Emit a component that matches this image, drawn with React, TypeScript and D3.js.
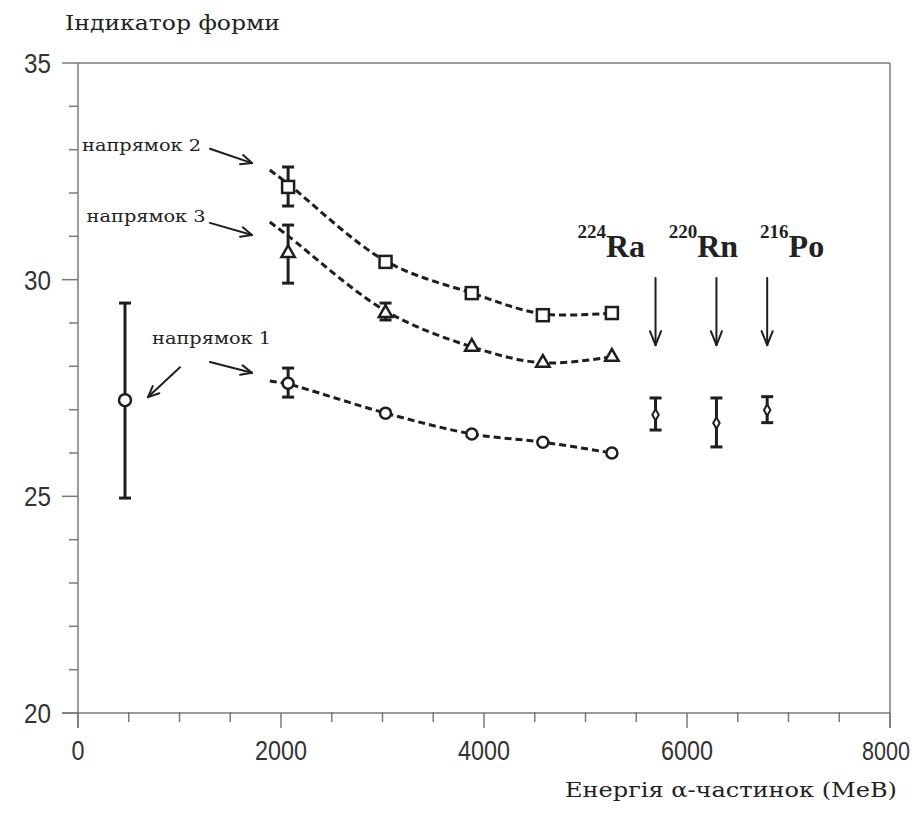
import React from 'react';
import * as d3 from 'd3';

// ---------- data ----------
const energies = [2070, 3030, 3880, 4580, 5260];
const dir2Values = [32.14, 30.41, 29.69, 29.18, 29.23];
const dir2Low: (number | null)[] = [31.7, null, null, null, null];
const dir2High: (number | null)[] = [32.6, null, null, null, null];
const dir3Values = [30.61, 29.23, 28.45, 28.08, 28.22];
const dir3Low: (number | null)[] = [29.92, 29.07, null, null, null];
const dir3High: (number | null)[] = [31.26, 29.46, null, null, null];
const dir1Values = [27.61, 26.92, 26.44, 26.25, 26.0];
const dir1Low: (number | null)[] = [27.29, null, null, null, null];
const dir1High: (number | null)[] = [27.96, null, null, null, null];

const fitEnergies = [1890, 2070, 3030, 3880, 4580, 5260];
const fit2 = [32.53, 32.21, 30.43, 29.69, 29.21, 29.23];
const fit3 = [31.33, 31.01, 29.28, 28.45, 28.08, 28.22];
const fit1 = [27.66, 27.59, 26.92, 26.44, 26.25, 26.0];

const lowEnergy = [463];
const lowValue = [27.22];
const lowLow = [24.96];
const lowHigh = [29.46];

const isotopeMass = ['224', '220', '216'];
const isotopeSymbol = ['Ra', 'Rn', 'Po'];
const isotopeEnergies = [5690, 6290, 6790];
const isotopeValues = [26.88, 26.69, 26.99];
const isotopeLow = [26.53, 26.14, 26.7];
const isotopeHigh = [27.27, 27.27, 27.3];
const isotopeLabelEnergy = [4920, 5820, 6720];
const isotopeLabelValue = 30.52;
const isotopeArrowTop = 30.04;
const isotopeArrowBottom = 28.49;

const xTicks = [0, 2000, 4000, 6000, 8000];
const yTicks = [20, 25, 30, 35];

const dirLabels = ['напрямок 2', 'напрямок 3', 'напрямок 1'];
const dirLabelEnergy = [40, 85, 730];
const dirLabelValue = [32.96, 31.32, 28.52];
// arrows: [x1, y1, x2, y2] in data units
const dirArrows = [
  [1300, 33.02, 1714, 32.69],
  [1300, 31.31, 1714, 31.03],
  [1300, 28.1, 1714, 27.85],
  [1005, 27.98, 690, 27.29],
];

const yTitle = 'Індикатор форми';
const xTitle = 'Енергія α-частинок (МеВ)';

// ---------- component ----------
export default function App() {
  const W = 922, H = 820;
  const x = d3.scaleLinear().domain([0, 8000]).range([78, 890]);
  const y = d3.scaleLinear().domain([20, 35]).range([713, 63]);
  const ink = '#1e1e1e';
  const axisCol = '#7a7a7a';

  const line = d3
    .line<[number, number]>()
    .x((d) => x(d[0]))
    .y((d) => y(d[1]))
    .curve(d3.curveCatmullRom.alpha(0.5));

  const fits = [fit2, fit3, fit1];

  const arrow = (x1: number, y1: number, x2: number, y2: number, head: number, spread: number, key: string, sw = 2) => {
    const ang = Math.atan2(y2 - y1, x2 - x1);
    const a1 = ang + Math.PI - spread;
    const a2 = ang + Math.PI + spread;
    return (
      <g key={key} stroke={ink} strokeWidth={sw} fill="none" strokeLinecap="round">
        <line x1={x1} y1={y1} x2={x2} y2={y2} />
        <line x1={x2} y1={y2} x2={x2 + head * Math.cos(a1)} y2={y2 + head * Math.sin(a1)} />
        <line x1={x2} y1={y2} x2={x2 + head * Math.cos(a2)} y2={y2 + head * Math.sin(a2)} />
      </g>
    );
  };

  const errBar = (ex: number, lo: number | null, hi: number | null, key: string, cap = 6) => {
    if (lo == null || hi == null) return null;
    return (
      <g key={key} stroke={ink} strokeWidth={3}>
        <line x1={x(ex)} x2={x(ex)} y1={y(lo)} y2={y(hi)} />
        <line x1={x(ex) - cap} x2={x(ex) + cap} y1={y(lo)} y2={y(lo)} />
        <line x1={x(ex) - cap} x2={x(ex) + cap} y1={y(hi)} y2={y(hi)} />
      </g>
    );
  };

  const triPath = d3.symbol(d3.symbolTriangle, 78)() as string;
  const diamondPath = d3.symbol(d3.symbolDiamond, 36)() as string;

  const xMinor = d3.range(0, 8001, 500).filter((v) => v % 2000 !== 0);
  const yMinor = d3.range(20, 35.01, 1).filter((v) => v % 5 !== 0);

  return (
    <svg width={W} height={H} style={{ display: 'block', position: 'absolute', left: 0, top: 0, background: '#fff' }}>
      <rect x={0} y={0} width={W} height={H} fill="#fff" />
      {/* frame */}
      <g stroke={axisCol} strokeWidth={1.5} fill="none">
        <line x1={x(0)} x2={x(8000)} y1={y(35)} y2={y(35)} />
        <line x1={x(8000)} x2={x(8000)} y1={y(35)} y2={y(20) + 15} />
        <line x1={x(0)} x2={x(0)} y1={y(35)} y2={y(20) + 15} />
        <line x1={x(0) - 16} x2={x(8000)} y1={y(20)} y2={y(20)} />
        {yTicks.map((t) => (
          <line key={'yt' + t} x1={x(0) - 16} x2={x(0)} y1={y(t)} y2={y(t)} />
        ))}
        {yMinor.map((t) => (
          <line key={'ym' + t} x1={x(0) - 9} x2={x(0)} y1={y(t)} y2={y(t)} />
        ))}
        {xTicks.map((t) => (
          <line key={'xt' + t} x1={x(t)} x2={x(t)} y1={y(20)} y2={y(20) + 15} />
        ))}
        {xMinor.map((t) => (
          <line key={'xm' + t} x1={x(t)} x2={x(t)} y1={y(20) - 1} y2={y(20) + 9} />
        ))}
      </g>
      {/* tick labels */}
      <g fontFamily="'Liberation Sans', Arial, sans-serif" fill="#333">
        {yTicks.map((t) => (
          <text key={'yl' + t} x={51} y={y(t) + 10} fontSize={28} textAnchor="end" textLength={String(t).length * 13.5} lengthAdjust="spacingAndGlyphs">
            {t}
          </text>
        ))}
        {xTicks.map((t, i) => {
          const last = i === xTicks.length - 1;
          return (
            <text
              key={'xl' + t}
              x={last ? W - 12 : x(t)}
              y={y(20) + 47}
              fontSize={last ? 25 : 28}
              textAnchor={last ? 'end' : 'middle'}
              textLength={String(t).length * (last ? 12 : 13)}
              lengthAdjust="spacingAndGlyphs"
            >
              {t}
            </text>
          );
        })}
      </g>
      {/* titles */}
      <text x={65} y={30} fontFamily="'DejaVu Serif', serif" fontSize={21} fill="#222" textLength={215} lengthAdjust="spacingAndGlyphs">
        {yTitle}
      </text>
      <text x={565} y={797} fontFamily="'DejaVu Serif', serif" fontSize={21} fill="#222" textLength={332} lengthAdjust="spacingAndGlyphs">
        {xTitle}
      </text>

      {/* fit curves */}
      {fits.map((f, i) => (
        <path
          key={'fit' + i}
          d={line(fitEnergies.map((e, j) => [e, f[j]] as [number, number])) as string}
          fill="none"
          stroke={ink}
          strokeWidth={3}
          strokeDasharray="7,4"
        />
      ))}

      {/* error bars */}
      {energies.map((e, i) => errBar(e, dir2Low[i], dir2High[i], 'e2' + i))}
      {energies.map((e, i) => errBar(e, dir3Low[i], dir3High[i], 'e3' + i))}
      {energies.map((e, i) => errBar(e, dir1Low[i], dir1High[i], 'e1' + i))}
      {lowEnergy.map((e, i) => errBar(e, lowLow[i], lowHigh[i], 'el' + i))}
      {isotopeEnergies.map((e, i) => errBar(e, isotopeLow[i], isotopeHigh[i], 'ei' + i))}

      {/* markers */}
      {energies.map((e, i) => (
        <rect key={'sq' + i} x={x(e) - 6} y={y(dir2Values[i]) - 6} width={12} height={12} fill="#fff" stroke={ink} strokeWidth={2.5} />
      ))}
      {energies.map((e, i) => (
        <path key={'tr' + i} d={triPath} transform={`translate(${x(e)},${y(dir3Values[i])})`} fill="#fff" stroke={ink} strokeWidth={2.5} />
      ))}
      {energies.map((e, i) => (
        <circle key={'ci' + i} cx={x(e)} cy={y(dir1Values[i])} r={5.5} fill="#fff" stroke={ink} strokeWidth={2.5} />
      ))}
      {lowEnergy.map((e, i) => (
        <circle key={'lo' + i} cx={x(e)} cy={y(lowValue[i])} r={6} fill="#fff" stroke={ink} strokeWidth={2.5} />
      ))}
      {isotopeEnergies.map((e, i) => (
        <path key={'is' + i} d={diamondPath} transform={`translate(${x(e)},${y(isotopeValues[i])})`} fill="#fff" stroke={ink} strokeWidth={2} />
      ))}

      {/* isotope arrows and labels */}
      {isotopeEnergies.map((e, i) =>
        arrow(x(e), y(isotopeArrowTop), x(e), y(isotopeArrowBottom), 15, 0.38, 'ia' + i, 2)
      )}
      {isotopeMass.map((m, i) => (
        <text key={'il' + i} x={x(isotopeLabelEnergy[i])} y={y(isotopeLabelValue)} fontFamily="'Liberation Serif', 'Times New Roman', serif" fontWeight="bold" fill="#222">
          <tspan fontSize={19} dy={-19}>{m}</tspan>
          <tspan fontSize={32} dy={19}>{isotopeSymbol[i]}</tspan>
        </text>
      ))}

      {/* direction labels and arrows */}
      {dirLabels.map((l, i) => (
        <text key={'dl' + i} x={x(dirLabelEnergy[i])} y={y(dirLabelValue[i])} fontFamily="'DejaVu Serif', serif" fontSize={17} fill="#222" textLength={119} lengthAdjust="spacingAndGlyphs">
          {l}
        </text>
      ))}
      {dirArrows.map((a, i) => arrow(x(a[0]), y(a[1]), x(a[2]), y(a[3]), 12, 0.42, 'da' + i, 2))}
    </svg>
  );
}
